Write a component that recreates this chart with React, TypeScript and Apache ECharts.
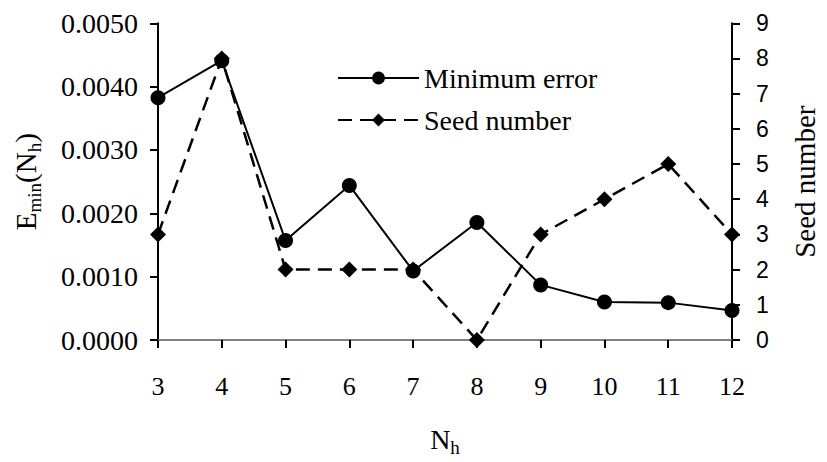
import React, { useEffect, useRef } from "react";
import * as echarts from "echarts";

const categories = ["3", "4", "5", "6", "7", "8", "9", "10", "11", "12"];
const minimumError = [0.003825, 0.00441, 0.00157, 0.00244, 0.00109, 0.001855, 0.00087, 0.0006, 0.00059, 0.000464];
const seedNumber = [3, 8, 2, 2, 2, 0, 3, 4, 5, 3];
const leftTicks = { min: 0, max: 0.005, interval: 0.001 };
const rightTicks = { min: 0, max: 9, interval: 1 };

const SERIF = "Liberation Serif";
const SANS = "Liberation Sans";

export default function App() {
  const ref = useRef<HTMLDivElement>(null);
  useEffect(() => {
    if (!ref.current) return;
    const chart = echarts.init(ref.current, undefined, { renderer: "svg" });
    const axisLine = { show: true, lineStyle: { color: "#000", width: 2 } };
    const axisTick = { show: true, inside: false, length: 8, lineStyle: { color: "#000", width: 2 } };
    chart.setOption({
      animation: false,
      backgroundColor: "#fff",
      textStyle: { fontFamily: SERIF },
      grid: { left: 158, right: 85, top: 23.3, bottom: 115.3, containLabel: false },
      legend: {
        orient: "vertical",
        left: 337,
        top: 64,
        padding: 0,
        itemWidth: 81,
        itemHeight: 16,
        itemGap: 14,
        itemTextGap: 6,
        textStyle: { fontFamily: SERIF, fontSize: 28, color: "#000" },
        data: ["Minimum error", "Seed number"],
      },
      xAxis: [
        {
          type: "category",
          data: categories,
          boundaryGap: false,
          position: "bottom",
          axisLine,
          axisTick: { ...axisTick, alignWithLabel: true },
          axisLabel: { fontFamily: SERIF, fontSize: 26, color: "#000", margin: 33 },
          splitLine: { show: false },
          name: "{n|N}{s|h}",
          nameLocation: "middle",
          nameGap: 81,
          nameTextStyle: {
            rich: {
              n: { fontFamily: SERIF, fontSize: 28, color: "#000", lineHeight: 36 },
              s: { fontFamily: SERIF, fontSize: 19, color: "#000", lineHeight: 36, verticalAlign: "bottom" },
            },
          },
        },
        {
          type: "category",
          data: categories,
          boundaryGap: false,
          position: "top",
          axisLine: { show: true, lineStyle: { color: "#808080", width: 2 } },
          axisTick: { show: false },
          axisLabel: { show: false },
          splitLine: { show: false },
        },
      ],
      yAxis: [
        {
          type: "value",
          position: "left",
          min: leftTicks.min,
          max: leftTicks.max,
          interval: leftTicks.interval,
          axisLine,
          axisTick,
          splitLine: { show: false },
          axisLabel: {
            fontFamily: SERIF,
            fontSize: 28,
            color: "#000",
            margin: 20,
            formatter: (v: number) => v.toFixed(4),
          },
          name: "{n|E}{s|min}{n|(N}{s|h}{n|)}",
          nameLocation: "middle",
          nameRotate: 90,
          nameGap: 114,
          nameTextStyle: {
            rich: {
              n: { fontFamily: SERIF, fontSize: 29, color: "#000", lineHeight: 36 },
              s: { fontFamily: SERIF, fontSize: 19, color: "#000", lineHeight: 36, verticalAlign: "bottom" },
            },
          },
        },
        {
          type: "value",
          position: "right",
          min: rightTicks.min,
          max: rightTicks.max,
          interval: rightTicks.interval,
          axisLine,
          axisTick,
          splitLine: { show: false },
          axisLabel: { fontFamily: SANS, fontSize: 23, color: "#000", margin: 24 },
          name: "Seed number",
          nameLocation: "middle",
          nameRotate: 90,
          nameGap: 58,
          nameTextStyle: { fontFamily: SERIF, fontSize: 29, color: "#000" },
        },
      ],
      series: [
        {
          name: "Seed number",
          type: "line",
          xAxisIndex: 0,
          yAxisIndex: 1,
          data: seedNumber,
          symbol: "diamond",
          symbolSize: 16,
          itemStyle: { color: "#000" },
          lineStyle: { color: "#000", width: 2.5, type: [14, 8] },
        },
        {
          name: "Minimum error",
          type: "line",
          xAxisIndex: 0,
          yAxisIndex: 0,
          data: minimumError,
          symbol: "circle",
          symbolSize: 15,
          itemStyle: { color: "#000" },
          lineStyle: { color: "#000", width: 2 },
        },
      ],
    });
    return () => chart.dispose();
  }, []);
  return <div ref={ref} style={{ width: 827, height: 462, position: "absolute", left: 0, top: 0 }} />;
}
